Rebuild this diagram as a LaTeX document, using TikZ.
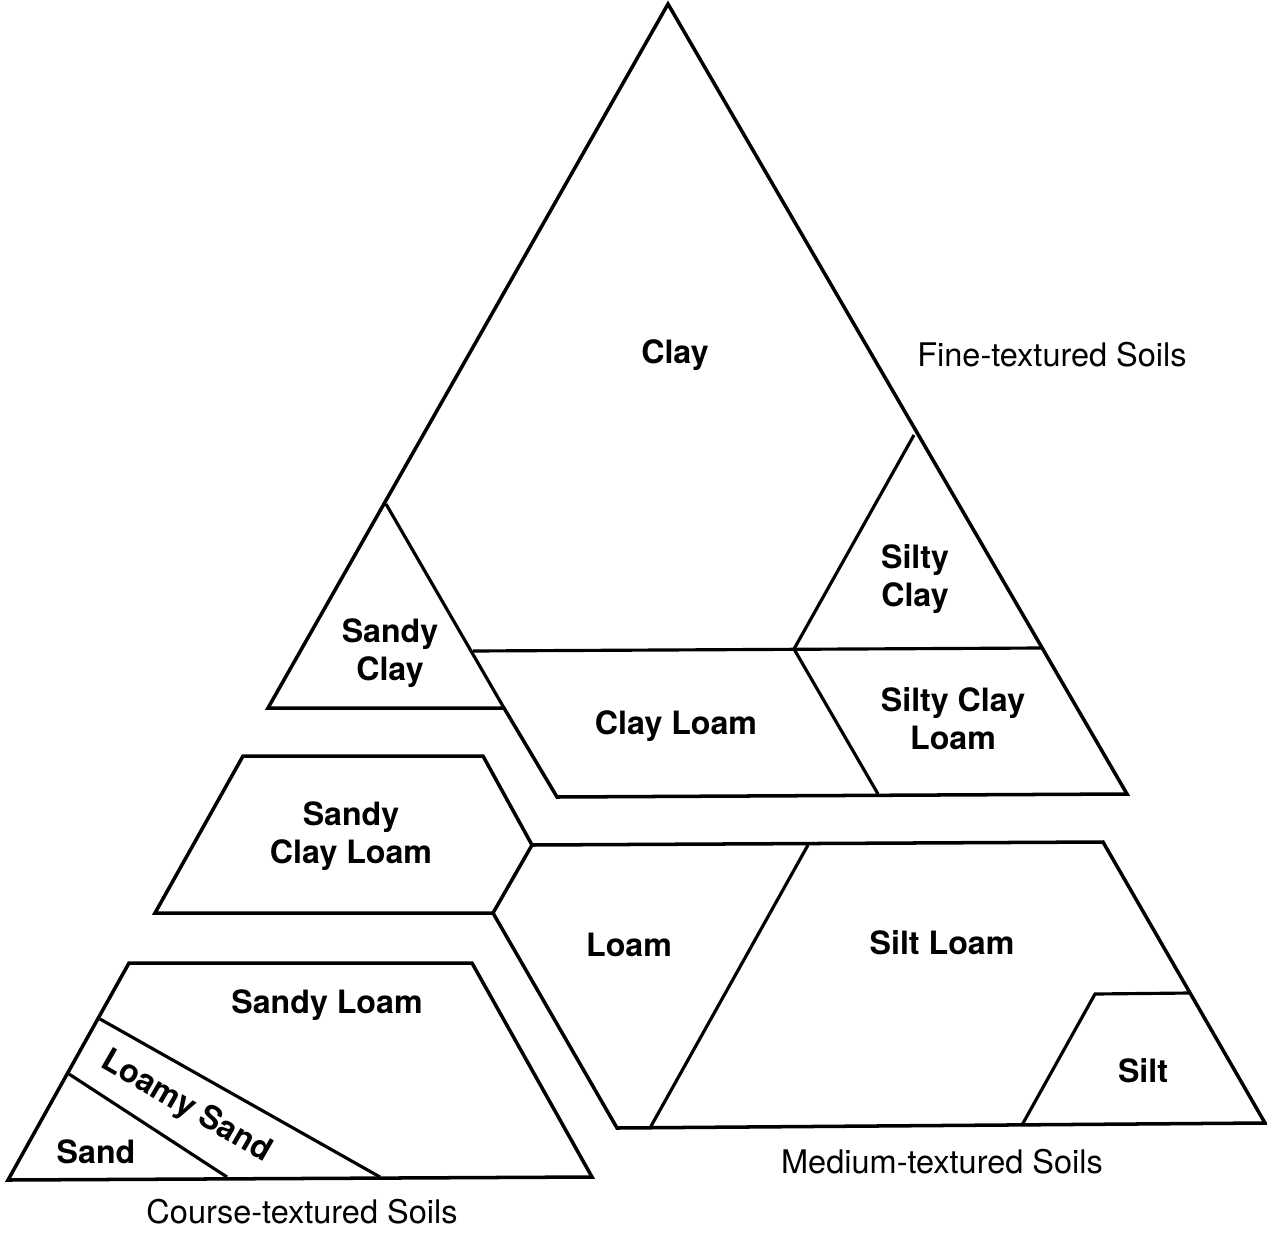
\documentclass[tikz,border=0pt]{standalone}
\usepackage{fontspec}
\setmainfont{TeX Gyre Heros}
\usetikzlibrary{positioning}

\begin{document}
\begin{tikzpicture}[x=0.02cm,y=-0.02cm,
  soil/.style={line width=2pt, line join=miter},
  part/.style={line width=1.8pt},
  cls/.style={font=\fontsize{18.3}{21.5}\selectfont\bfseries, align=center, inner sep=0pt},
  grp/.style={font=\fontsize{18.5}{22}\selectfont, inner sep=0pt, anchor=base}]
\useasboundingbox (0,0) rectangle (1267,1233);

% fine textured
\coordinate (apex) at (668,4);
\coordinate (fl) at (268,708);
\coordinate (fm) at (504,708);
\coordinate (fb) at (557,797);
\coordinate (fr) at (1127,794);
\draw[soil] (apex) -- (fl) -- (fm) -- (fb) -- (fr) -- cycle;

% ... sandy clay / clay / silty clay
\coordinate (sc) at (386,504);
\coordinate (cl) at (473,651);
\coordinate (cm) at (794,649);
\coordinate (cr) at (1041,648);
\coordinate (st) at (914,435);
\coordinate (sb) at (878,794);
\draw[part] (sc) -- (fm);
\draw[part] (cl) -- (cr);
\draw[part] (st) -- (cm) -- (sb);

\node[cls, anchor=base] (clay) at (675,363) {Clay};
\node[grp] (fine) at (1052,366) {Fine-textured Soils};
\node[cls, anchor=base] (siltyclay) at (915,606) {Silty\\Clay};
\node[cls, anchor=base] (sandyclay) at (390,680) {Sandy\\Clay};
\node[cls, anchor=base] (clayloam) at (676,734) {Clay Loam};
\node[cls, anchor=base] (siltyclayloam) at (953,749) {Silty Clay\\Loam};

% sandy clay loam
\coordinate (ql) at (243,756);
\coordinate (qr) at (483,756);
\coordinate (qp) at (532,845);
\coordinate (qb) at (493,913);
\coordinate (qa) at (155,913);
\draw[soil] (ql) -- (qr) -- (qp) -- (qb) -- (qa) -- cycle;
\node[cls, anchor=base] (sandyclayloam) at (351,863) {Sandy\\Clay Loam};

% medium textured
\coordinate (mt) at (1103,842);
\coordinate (mr) at (1265,1123);
\coordinate (mb) at (617,1128);
\draw[soil] (qp) -- (mt) -- (mr) -- (mb) -- (qb);
\coordinate (lt) at (808,845);
\coordinate (lb) at (650,1128);
\draw[part] (lt) -- (lb);
\coordinate (sl) at (1022,1125);
\coordinate (stl) at (1095,994);
\coordinate (str) at (1190,993);
\draw[part] (sl) -- (stl) -- (str);

\node[cls, anchor=base] (loam) at (629,956) {Loam};
\node[cls, anchor=base] (siltloam) at (942,954) {Silt Loam};
\node[cls, anchor=base] (silt) at (1143,1082) {Silt};
\node[grp] (medium) at (942,1173) {Medium-textured Soils};

% coarse textured
\coordinate (kl) at (129,963);
\coordinate (kr) at (472,963);
\coordinate (kb) at (592,1177);
\coordinate (ka) at (8,1180);
\draw[soil] (kl) -- (kr) -- (kb) -- (ka) -- cycle;
\coordinate (la) at (100,1019);
\coordinate (lc) at (380,1177);
\coordinate (sa) at (69,1074);
\coordinate (sd) at (227,1177);
\draw[part] (la) -- (lc);
\draw[part] (sa) -- (sd);

\node[cls, anchor=base] (sandyloam) at (327,1013) {Sandy Loam};
\node[cls, rotate=-30] (loamysand) at (186,1107) {Loamy Sand};
\node[cls, anchor=base] (sand) at (96,1163) {Sand};
\node[grp] (coarse) at (302,1223) {Course-textured Soils};

\end{tikzpicture}
\end{document}
